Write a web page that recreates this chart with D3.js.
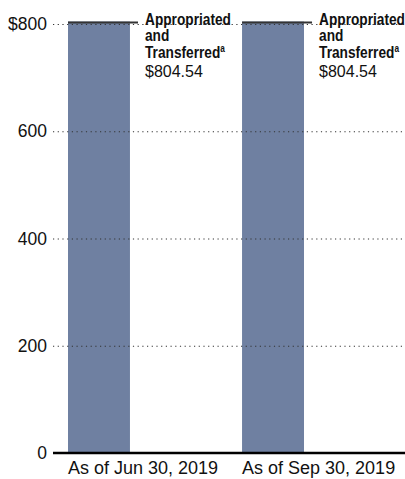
<!DOCTYPE html>
<html lang="en">
<head>
    <meta charset="utf-8">
    <script src='https://d3js.org/d3.v7.min.js'></script>
    <style>
        body { margin: 0; background: #fff; }
    </style>
</head>
<body>
    <script>
        // data
        var categories = ["As of Jun 30, 2019", "As of Sep 30, 2019"];
        var values = [804.54, 804.54];
        var labelLines = ["Appropriated", "and", "Transferred"];
        var valueLabels = ["$804.54", "$804.54"];
        var yTicks = [0, 200, 400, 600, 800];

        var W = 405, H = 479;
        var FONT = "Liberation Sans, Arial, sans-serif";

        var xScale = d3.scaleBand()
            .domain(categories)
            .range([68, 304])
            .paddingInner(0.644)
            .paddingOuter(0);

        var yScale = d3.scaleLinear()
            .domain([0, 800])
            .range([453, 24]);

        const svg = d3.select("body")
            .append("svg")
            .attr("width", W)
            .attr("height", H);

        // bars
        svg.append("g")
            .selectAll("rect")
            .data(values)
            .enter()
            .append("rect")
            .attr("x", (d, i) => xScale(categories[i]))
            .attr("y", d => yScale(d))
            .attr("width", xScale.bandwidth())
            .attr("height", d => yScale(0) - yScale(d))
            .attr("fill", "#6f80a1");

        // y axis with dotted gridlines drawn over the bars
        var yAxis = svg.append("g")
            .attr("transform", "translate(53,0)")
            .call(d3.axisLeft(yScale)
                .tickValues(yTicks)
                .tickSize(-(W - 53))
                .tickPadding(6)
                .tickFormat(d => d === 800 ? "$800" : d));
        yAxis.select(".domain").remove();
        yAxis.attr("font-family", FONT).attr("font-size", 17.5);
        yAxis.selectAll(".tick text").attr("fill", "#111");
        yAxis.selectAll(".tick line")
            .attr("stroke", "#333")
            .attr("stroke-width", 1.2)
            .attr("stroke-dasharray", "1.2,3.5");
        yAxis.selectAll(".tick").filter(d => d === 0).select("line").remove();

        // baseline
        svg.append("line")
            .attr("x1", 53).attr("x2", W)
            .attr("y1", yScale(0)).attr("y2", yScale(0))
            .attr("stroke", "#000")
            .attr("stroke-width", 2.5);

        // leader lines on top of bars
        svg.append("g")
            .selectAll("line")
            .data(values)
            .enter()
            .append("line")
            .attr("x1", (d, i) => xScale(categories[i]))
            .attr("x2", (d, i) => xScale(categories[i]) + 70)
            .attr("y1", d => yScale(d) + 1)
            .attr("y2", d => yScale(d) + 1)
            .attr("stroke", "#333")
            .attr("stroke-width", 2);

        // annotations (bold condensed lines, then the value)
        values.forEach(function(v, i) {
            var x0 = xScale(categories[i]) + 77;
            var g = svg.append("g")
                .attr("transform", "translate(" + x0 + ",0) scale(0.83,1)");
            var t = g.append("text")
                .attr("font-family", FONT)
                .attr("font-size", 16.5)
                .attr("font-weight", "bold")
                .attr("fill", "#111");
            labelLines.forEach(function(s, j) {
                t.append("tspan")
                    .attr("x", 0)
                    .attr("y", 25 + j * 16.5)
                    .text(s);
            });
            t.append("tspan")
                .attr("font-size", 10)
                .attr("dy", -6)
                .text("a");
            svg.append("text")
                .attr("font-family", FONT)
                .attr("font-size", 16)
                .attr("fill", "#111")
                .attr("x", x0)
                .attr("y", 77)
                .text(valueLabels[i]);
        });

        // category labels, left aligned with the bars
        svg.append("g")
            .selectAll("text")
            .data(categories)
            .enter()
            .append("text")
            .attr("font-family", FONT)
            .attr("font-size", 18)
            .attr("fill", "#111")
            .attr("x", d => xScale(d))
            .attr("y", 474)
            .text(d => d);
    </script>
</body>
</html>
